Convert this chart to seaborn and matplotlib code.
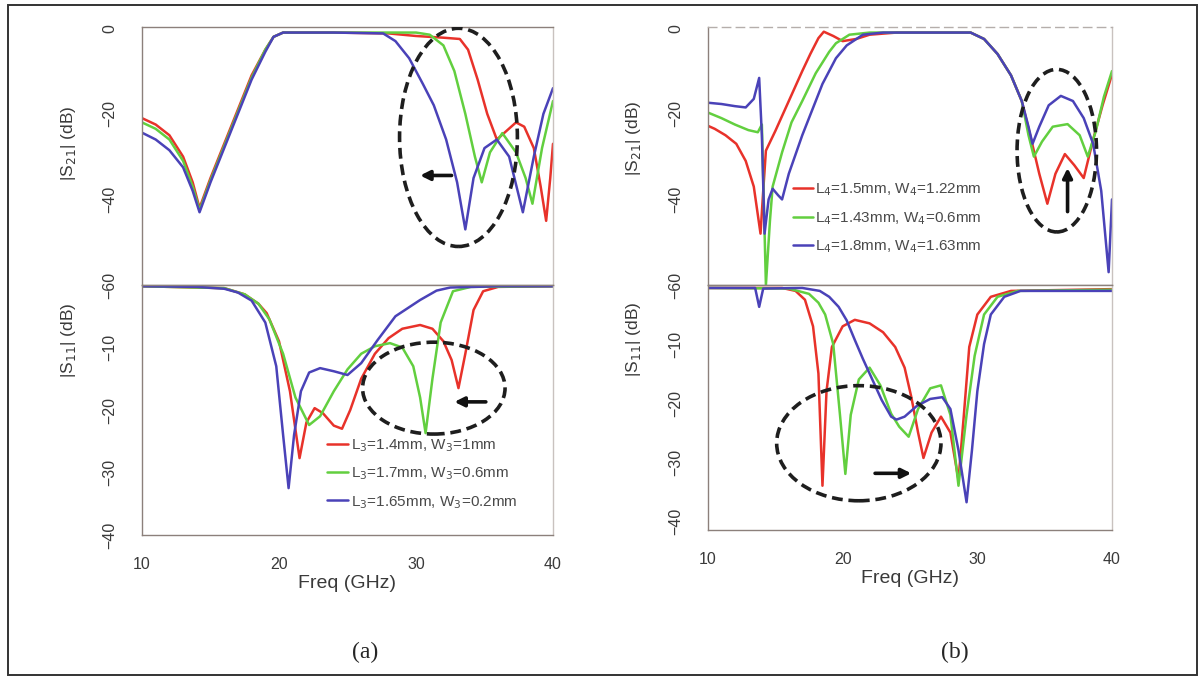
import numpy as np
import pandas as pd
import matplotlib
matplotlib.use('Agg')
import matplotlib.pyplot as plt
from matplotlib.patches import Ellipse, Rectangle
import seaborn as sns

# ---- data (freq in GHz, magnitude in dB) ----
labels_a = ['L$_3$=1.4mm, W$_3$=1mm', 'L$_3$=1.7mm, W$_3$=0.6mm', 'L$_3$=1.65mm, W$_3$=0.2mm']
labels_b = ['L$_4$=1.5mm, W$_4$=1.22mm', 'L$_4$=1.43mm, W$_4$=0.6mm', 'L$_4$=1.8mm, W$_4$=1.63mm']
colors = ['#e8322a', '#62cf3f', '#4a42b8']

# (a) |S21|
a21_red_f = [10, 11, 12, 13, 13.7, 14.2, 15, 16, 17, 18, 19, 19.6, 20.3, 24, 28, 30, 32, 33.2, 33.8, 34.5, 35.2, 35.9, 36.6, 37.3, 37.9, 38.6, 39.1, 39.5, 39.8, 40]
a21_red_d = [-21, -22.5, -25, -30, -36, -42, -35, -27, -19, -11, -5, -2, -1, -1, -1.2, -1.8, -2.2, -2.5, -5, -12, -20, -26, -24, -22, -23, -28, -37, -45, -35, -27]
a21_grn_f = [10, 11, 12, 13, 13.7, 14.2, 15, 16, 17, 18, 19, 19.6, 20.3, 24, 30, 31, 32, 32.8, 33.6, 34.3, 34.8, 35.4, 36.3, 37.3, 38.0, 38.5, 39.2, 40]
a21_grn_d = [-22, -23.5, -26, -31, -37, -42.5, -35.5, -27.5, -19.5, -11.5, -5, -2, -1, -1, -1, -1.5, -4, -10, -20, -30, -36, -29, -24.5, -29, -35, -41, -28, -17]
a21_blu_f = [10, 11, 12, 13, 13.7, 14.2, 15, 16, 17, 18, 19, 19.6, 20.3, 24, 27.6, 28.5, 29.5, 30.5, 31.3, 32.2, 33, 33.6, 34.2, 35, 35.9, 36.8, 37.8, 38.6, 39.3, 40]
a21_blu_d = [-24.4, -26, -28.5, -32.5, -38, -43, -36, -28, -20, -12, -5.5, -2, -1, -1, -1.2, -3, -7, -13, -18, -26, -36, -47, -35, -28, -26, -30, -43, -30, -20, -14]

# (a) |S11|
a11_red_f = [10, 16, 17.5, 18.5, 19.1, 20, 20.8, 21.5, 22.0, 22.6, 23.2, 24, 24.6, 25.2, 26, 27, 28, 29, 30.3, 31.2, 32, 32.6, 33.1, 33.6, 34.2, 34.9, 36, 40]
a11_red_d = [-0.2, -0.5, -1.5, -3, -4.5, -9, -17, -27.7, -22, -19.7, -20.5, -22.5, -23, -20, -15, -11, -8.5, -7, -6.4, -7, -9, -12, -16.5, -11, -4, -1, -0.3, -0.2]
a11_grn_f = [10, 16, 17.5, 18.5, 19.3, 20.3, 21.2, 22.2, 23, 24, 25, 26, 27, 28.1, 29, 29.8, 30.3, 30.7, 31.2, 31.8, 32.7, 34, 40]
a11_grn_d = [-0.2, -0.5, -1.5, -3, -5.5, -11, -18, -22.4, -21, -17, -13.5, -11, -9.8, -9.3, -10, -13, -18, -23.7, -15, -6, -1, -0.3, -0.2]
a11_blu_f = [10, 14, 16, 17, 18, 19, 19.8, 20.3, 20.7, 21.1, 21.6, 22.2, 23, 24, 25, 26, 27.2, 28.5, 30.3, 31.5, 32.5, 36, 40]
a11_blu_d = [-0.2, -0.3, -0.6, -1.2, -2.5, -6, -13, -24, -32.5, -24, -17, -14, -13.3, -13.8, -14.4, -12.5, -8.8, -5, -2.4, -0.9, -0.4, -0.2, -0.2]

# (b) |S21|
b21_red_f = [10, 10.5, 11.3, 12.1, 12.8, 13.4, 13.9, 14.1, 14.3, 15, 16, 17, 17.6, 18.2, 18.6, 19.3, 20, 21, 22, 24, 29.5, 30.5, 31.5, 32.5, 33.3, 34, 34.6, 35.2, 35.8, 36.5, 37.2, 37.9, 38.6, 39.3, 40]
b21_red_d = [-22.8, -23.5, -25, -27, -31, -37, -48, -38, -28.6, -24, -17, -10, -6, -2.3, -0.8, -1.8, -3, -2.5, -1.5, -1, -1, -2.5, -6, -11, -17, -26, -34, -41, -34, -29.4, -32, -35, -26, -18, -10.8]
b21_grn_f = [10, 11, 12, 13, 13.7, 14.0, 14.3, 14.6, 14.8, 15.5, 16.2, 17, 18, 19, 19.5, 20.5, 22, 29.5, 30.5, 31.5, 32.5, 33.3, 33.8, 34.2, 34.8, 35.6, 36.7, 37.6, 38.2, 38.8, 39.4, 40]
b21_grn_d = [-19.7, -21, -22.5, -23.8, -24.3, -22.5, -60, -45, -37, -29, -22, -17, -10.5, -5.5, -3.5, -1.5, -1, -1, -2.5, -6, -11, -17, -25, -30, -26.5, -23, -22.4, -25, -30, -24, -16, -10]
b21_blu_f = [10, 11, 12, 12.8, 13.4, 13.8, 14.0, 14.2, 14.5, 14.8, 15.2, 15.5, 16, 17, 17.5, 18.5, 19.5, 20.3, 21.5, 23, 29.5, 30.5, 31.5, 32.5, 33.3, 33.8, 34.1, 34.6, 35.3, 36.2, 37.1, 37.9, 38.6, 39.2, 39.75, 40]
b21_blu_d = [-17.4, -17.7, -18.2, -18.5, -16.5, -11.6, -25, -48, -40, -37.5, -39, -40, -34, -25, -21, -13, -7, -4, -1.5, -1, -1, -2.5, -6, -11, -17, -23, -27, -23, -18, -15.8, -17, -21, -27, -38, -57, -40]

# (b) |S11|
b11_red_f = [10, 15.5, 16.5, 17.2, 17.8, 18.2, 18.5, 18.8, 19.2, 20, 20.9, 22, 23, 23.9, 24.6, 25.1, 25.6, 26, 26.6, 27.3, 28, 28.6, 29, 29.4, 30, 31, 32.5, 40]
b11_red_d = [-0.5, -0.5, -1, -2.5, -7, -15, -34, -18, -10.5, -7, -5.9, -6.5, -8, -10.5, -14, -19, -25, -29.3, -25, -22.3, -25, -33, -22, -10.5, -5, -2, -1, -0.7]
b11_grn_f = [10, 16, 17.5, 18.2, 18.7, 19.3, 19.8, 20.2, 20.6, 21.2, 22, 22.8, 23.6, 24.2, 24.9, 25.6, 26.5, 27.3, 28, 28.6, 29.2, 29.8, 30.5, 31.5, 33, 40]
b11_grn_d = [-0.5, -0.6, -1.5, -3, -5, -10, -22, -32, -22, -16, -14, -17, -21.8, -24, -25.7, -21, -17.5, -17, -22, -34, -22, -12, -5, -2, -1, -0.8]
b11_blu_f = [10, 13.5, 13.8, 14.1, 17, 18.3, 19, 19.7, 20.3, 20.9, 21.5, 22.2, 22.9, 23.6, 24, 24.6, 25.5, 26.5, 27.4, 28, 28.6, 29.2, 29.6, 30, 30.5, 31, 32, 33.2, 40]
b11_blu_d = [-0.5, -0.5, -3.7, -0.6, -0.5, -1, -2, -3.7, -6, -9.3, -12.5, -16, -19.5, -22.3, -22.8, -22.3, -20.5, -19.3, -19, -21, -28, -36.8, -28, -18, -10, -5, -2, -1, -1]

freq_ticks = [10, 20, 30, 40]
s21_ticks = [0, -20, -40, -60]
s11_ticks = [-10, -20, -30, -40]


def long_df(curves, labels):
    parts = []
    for (f, d), lab in zip(curves, labels):
        parts.append(pd.DataFrame({'freq': f, 'db': d, 'case': lab}))
    return pd.concat(parts, ignore_index=True)


sns.set_theme(style='white')
plt.rcParams['font.family'] = ['Liberation Sans', 'DejaVu Sans']
plt.rcParams['mathtext.fontset'] = 'dejavusans'

fig = plt.figure(figsize=(12.04, 6.78), dpi=100)
W, H = 1204.0, 678.0

spine_col = '#8c807b'
text_col = '#3a3a3a'


def make_ax(x0, x1, y0, y1):
    return fig.add_axes([x0 / W, 1 - y1 / H, (x1 - x0) / W, (y1 - y0) / H])


def style(ax, yticks, ylim, bottom):
    ax.set_xlim(10, 40)
    ax.set_ylim(*ylim)
    ax.set_yticks(yticks)
    ax.set_yticklabels([str(t) if t == 0 else '\u2212%d' % abs(t) for t in yticks],
                       rotation=90, va='center', fontsize=11.5)
    ax.tick_params(axis='y', direction='in', length=3, pad=18, colors=spine_col, labelcolor=text_col)
    ax.set_xticks(freq_ticks)
    if bottom:
        ax.tick_params(axis='x', direction='in', length=3, pad=16, colors=spine_col, labelcolor=text_col, labelsize=11.5)
        ax.set_xlabel('Freq (GHz)', fontsize=14, color=text_col, labelpad=2)
    else:
        ax.tick_params(axis='x', direction='in', length=0, labelbottom=False)
        ax.set_xlabel('')
    for s in ax.spines.values():
        s.set_color(spine_col)
        s.set_linewidth(1.0)
    ax.spines['right'].set_color('#c9c2bf')


def draw(ax, df, legend):
    sns.lineplot(data=df, x='freq', y='db', hue='case', palette=colors, estimator=None,
                 sort=False, linewidth=1.8, ax=ax, legend=legend)


def oval(ax, cx, cy, w, h):
    ax.add_patch(Ellipse((cx, cy), w, h, fill=False, edgecolor='#1e1e1e',
                         linestyle=(0, (3, 1.6)), linewidth=2.6, zorder=5))


def arrow(ax, start, end):
    ax.annotate('', xy=end, xytext=start,
                arrowprops=dict(arrowstyle='-|>', color='#111111', lw=2.6, mutation_scale=14), zorder=6)


# ---------------- panel (a) ----------------
ax_a1 = make_ax(142, 553, 27, 285)
ax_a2 = make_ax(142, 553, 285, 535)
draw(ax_a1, long_df([(a21_red_f, a21_red_d), (a21_grn_f, a21_grn_d), (a21_blu_f, a21_blu_d)], labels_a), False)
draw(ax_a2, long_df([(a11_red_f, a11_red_d), (a11_grn_f, a11_grn_d), (a11_blu_f, a11_blu_d)], labels_a), True)
style(ax_a1, s21_ticks, (-60, 0.3), False)
style(ax_a2, s11_ticks, (-40, 0), True)
ax_a1.set_ylabel('|S$_{21}$| (dB)', fontsize=12.5, color=text_col)
ax_a2.set_ylabel('|S$_{11}$| (dB)', fontsize=12.5, color=text_col)
ax_a1.yaxis.set_label_coords(-0.155, 0.55)
ax_a2.yaxis.set_label_coords(-0.155, 0.78)
oval(ax_a1, 33.1, -25.5, 8.6, 51)
arrow(ax_a1, (32.8, -34.4), (30.1, -34.4))
oval(ax_a2, 31.3, -16.5, 10.4, 14.7)
arrow(ax_a2, (35.3, -18.7), (32.6, -18.7))
ax_a2.legend(loc='upper left', bbox_to_anchor=(0.45, 0.39), frameon=False, fontsize=11,
             handlelength=1.4, handletextpad=0.15, labelspacing=0.75, borderpad=0, borderaxespad=0,
             labelcolor='#4a4a4a')

# ---------------- panel (b) ----------------
ax_b1 = make_ax(708, 1112, 27, 285)
ax_b2 = make_ax(708, 1112, 285, 530)
draw(ax_b1, long_df([(b21_red_f, b21_red_d), (b21_grn_f, b21_grn_d), (b21_blu_f, b21_blu_d)], labels_b), True)
draw(ax_b2, long_df([(b11_red_f, b11_red_d), (b11_grn_f, b11_grn_d), (b11_blu_f, b11_blu_d)], labels_b), False)
style(ax_b1, s21_ticks, (-60, 0.3), False)
style(ax_b2, s11_ticks, (-41.5, 0), True)
ax_b1.spines['top'].set_linestyle((0, (6, 4)))
ax_b1.spines['top'].set_color('#b5aeab')
ax_b1.set_ylabel('|S$_{21}$| (dB)', fontsize=12.5, color=text_col)
ax_b2.set_ylabel('|S$_{11}$| (dB)', fontsize=12.5, color=text_col)
ax_b1.yaxis.set_label_coords(-0.16, 0.57)
ax_b2.yaxis.set_label_coords(-0.16, 0.78)
oval(ax_b1, 35.9, -28.6, 5.9, 38)
arrow(ax_b1, (36.7, -43.5), (36.7, -32.0))
oval(ax_b2, 21.2, -26.8, 12.2, 19.5)
arrow(ax_b2, (22.2, -31.9), (25.3, -31.9))
ax_b1.legend(loc='upper left', bbox_to_anchor=(0.21, 0.40), frameon=False, fontsize=11,
             handlelength=1.3, handletextpad=0.15, labelspacing=0.75, borderpad=0, borderaxespad=0,
             labelcolor='#4a4a4a')

# captions and frame
fig.text(365 / W, 1 - 652 / H, '(a)', ha='center', va='center', fontsize=17, family='Liberation Serif')
fig.text(955 / W, 1 - 652 / H, '(b)', ha='center', va='center', fontsize=17, family='Liberation Serif')
fig.patches.append(Rectangle((8 / W, 1 - 675 / H), 1189 / W, 670 / H, transform=fig.transFigure,
                             fill=False, edgecolor='#333333', linewidth=1.4))

fig.savefig('out.png', dpi=100)
